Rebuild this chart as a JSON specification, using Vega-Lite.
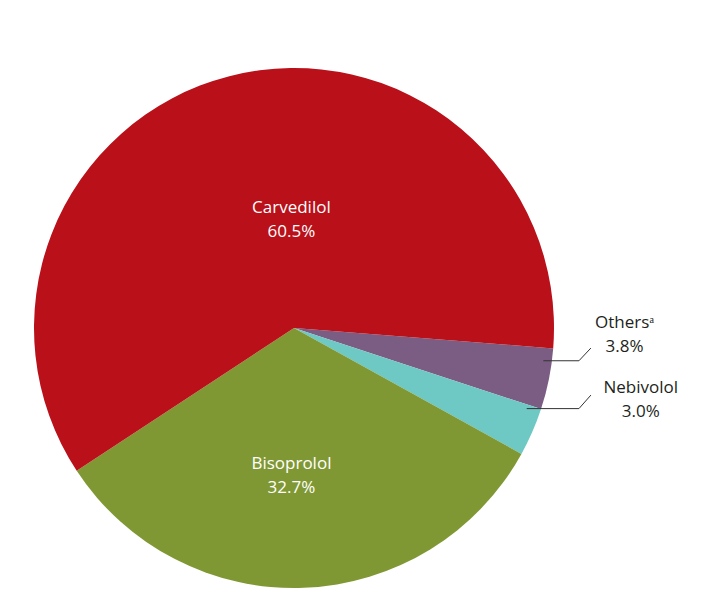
{
  "$schema": "https://vega.github.io/schema/vega-lite/v6.json",
  "width": 520,
  "height": 520,
  "autosize": "none",
  "padding": {"left": 34, "top": 68, "right": 149, "bottom": 10},
  "background": "white",
  "config": {"view": {"stroke": null}, "font": "Open Sans"},
  "data": {
    "values": [
      {"drug": "Others", "share": 3.8, "idx": 0},
      {"drug": "Nebivolol", "share": 3.0, "idx": 1},
      {"drug": "Bisoprolol", "share": 32.7, "idx": 2},
      {"drug": "Carvedilol", "share": 60.5, "idx": 3}
    ]
  },
  "transform": [
    {"stack": "share", "groupby": [], "sort": [{"field": "idx", "order": "ascending"}], "as": ["s0", "s1"]},
    {"calculate": "(datum.s0 + datum.s1) / 2", "as": "mid"},
    {"calculate": "datum.drug + (datum.drug == 'Others' ? 'ᵃ' : '') + '\\n' + format(datum.share, '.1f') + '%'", "as": "label"}
  ],
  "layer": [
    {
      "mark": {"type": "arc"},
      "encoding": {
        "theta": {"field": "s0", "type": "quantitative", "scale": {"domain": [0, 100], "range": [1.6493, 7.9325]}},
        "theta2": {"field": "s1"},
        "color": {
          "field": "drug", "type": "nominal", "legend": null,
          "scale": {"domain": ["Carvedilol", "Bisoprolol", "Nebivolol", "Others"], "range": ["#B9101A", "#7F9833", "#6EC8C3", "#7B5D84"]}
        }
      }
    },
    {
      "transform": [{"filter": "datum.drug == 'Carvedilol'"}],
      "mark": {"type": "text", "radius": 111, "dx": 25, "dy": -12, "fontSize": 17, "lineBreak": "\n", "lineHeight": 24, "align": "center", "baseline": "middle", "color": "#FFFFFF"},
      "encoding": {"theta": {"field": "mid", "type": "quantitative"}, "text": {"field": "label"}}
    },
    {
      "transform": [{"filter": "datum.drug == 'Bisoprolol'"}],
      "mark": {"type": "text", "radius": 144, "dx": -8, "dy": -8, "fontSize": 17, "lineBreak": "\n", "lineHeight": 24, "align": "center", "baseline": "middle", "color": "#FFFFFF"},
      "encoding": {"theta": {"field": "mid", "type": "quantitative"}, "text": {"field": "label"}}
    },
    {
      "transform": [{"filter": "datum.drug == 'Others'"}],
      "mark": {"type": "text", "radius": 330, "dx": 7, "dy": -70, "fontSize": 17, "lineBreak": "\n", "lineHeight": 24, "align": "center", "baseline": "middle", "color": "#231F20"},
      "encoding": {"theta": {"field": "mid", "type": "quantitative"}, "text": {"field": "label"}}
    },
    {
      "transform": [{"filter": "datum.drug == 'Nebivolol'"}],
      "mark": {"type": "text", "radius": 350, "dx": 26, "dy": -80, "fontSize": 17, "lineBreak": "\n", "lineHeight": 24, "align": "center", "baseline": "middle", "color": "#231F20"},
      "encoding": {"theta": {"field": "mid", "type": "quantitative"}, "text": {"field": "label"}}
    },
    {
      "data": {"values": [{}]},
      "mark": {"type": "rule", "color": "#333333", "strokeWidth": 1},
      "encoding": {
        "x": {"datum": 0.959, "type": "quantitative", "scale": {"domain": [-1, 1]}, "axis": null},
        "x2": {"datum": 1.096},
        "y": {"datum": -0.126, "type": "quantitative", "scale": {"domain": [-1, 1]}, "axis": null},
        "y2": {"datum": -0.126}
      }
    },
    {
      "data": {"values": [{}]},
      "mark": {"type": "rule", "color": "#333333", "strokeWidth": 1},
      "encoding": {
        "x": {"datum": 1.096, "type": "quantitative"},
        "x2": {"datum": 1.142},
        "y": {"datum": -0.126, "type": "quantitative"},
        "y2": {"datum": -0.077}
      }
    },
    {
      "data": {"values": [{}]},
      "mark": {"type": "rule", "color": "#333333", "strokeWidth": 1},
      "encoding": {
        "x": {"datum": 0.895, "type": "quantitative"},
        "x2": {"datum": 1.096},
        "y": {"datum": -0.31, "type": "quantitative"},
        "y2": {"datum": -0.31}
      }
    },
    {
      "data": {"values": [{}]},
      "mark": {"type": "rule", "color": "#333333", "strokeWidth": 1},
      "encoding": {
        "x": {"datum": 1.096, "type": "quantitative"},
        "x2": {"datum": 1.142},
        "y": {"datum": -0.31, "type": "quantitative"},
        "y2": {"datum": -0.258}
      }
    }
  ]
}
